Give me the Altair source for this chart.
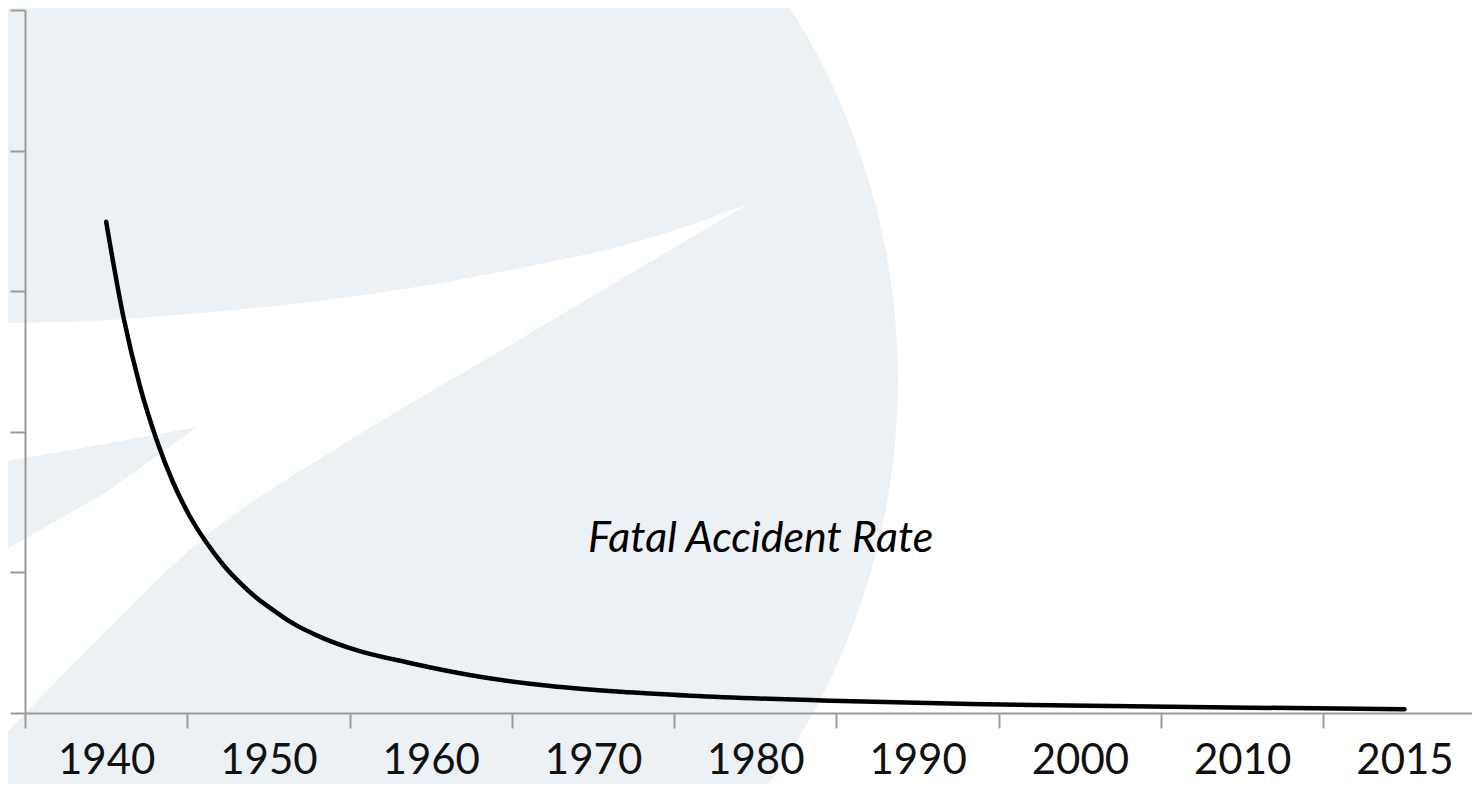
import altair as alt
import pandas as pd

# ---- axis categories (equally spaced slots) ----
year_labels = ["1940", "1950", "1960", "1970", "1980", "1990", "2000", "2010", "2015"]

# ---- fatal accident rate curve (slot position: 0 = 1940 ... 8 = 2015) ----
curve_pos = [0.000, 0.106, 0.209, 0.311, 0.414, 0.517, 0.620, 0.722, 0.825, 0.928,
             1.028, 1.133, 1.336, 1.502, 1.872, 2.303, 2.738, 3.170, 3.602, 4.466,
             5.329, 6.196, 7.060, 8.000]
curve_rate = [3.494, 2.819, 2.321, 1.942, 1.636, 1.396, 1.209, 1.053, 0.925, 0.818,
              0.733, 0.650, 0.533, 0.462, 0.356, 0.258, 0.192, 0.151, 0.123, 0.087,
              0.064, 0.050, 0.038, 0.026]

series_label = "Fatal Accident Rate"
label_pos = [2.969]
label_rate = [1.145]

# ---- background watermark (in the same data units) ----
wm_circle_pos = [0.597]
wm_circle_rate = [2.368]

wm_swoosh_pos = [-0.654, -0.0995, 0.578, 1.503, 2.427, 3.351, 3.955]
wm_swoosh_top = [2.774, 2.788, 2.845, 2.959, 3.137, 3.378, 3.620]
wm_swoosh_bot = [-0.190, 0.469, 1.223, 1.942, 2.575, 3.208, 3.620]

wm_wedge_pos = [-0.654, -0.007, 0.560]
wm_wedge_top = [1.785, 1.913, 2.034]
wm_wedge_bot = [1.138, 1.565, 2.034]

LIGHT = "#ECF1F6"
AXIS = "#9a9a9a"

xscale = alt.Scale(domain=[-0.5, 8.416], nice=False, zero=False)
yscale = alt.Scale(domain=[0, 5], nice=False, zero=True)

label_expr = "[" + ",".join("'%s'" % y for y in year_labels) + "][round(datum.value + 0.5)]"

x_axis = alt.Axis(
    values=[i - 0.5 for i in range(len(year_labels))],
    labelExpr=label_expr,
    labelOffset=81.15,
    labelAlign="center",
    labelBaseline="alphabetic",
    labelPadding=45,
    labelFont="Lato",
    labelFontSize=42,
    labelColor="#111111",
    labelFlush=False,
    labelOverlap=False,
    labelBound=False,
    tickSize=15,
    tickColor=AXIS,
    tickWidth=2,
    domainColor=AXIS,
    domainWidth=2,
    grid=False,
    title=None,
    zindex=1,
)
y_axis = alt.Axis(
    values=[0, 1, 2, 3, 4, 5],
    labels=False,
    tickSize=15,
    tickColor=AXIS,
    tickWidth=2,
    domainColor=AXIS,
    domainWidth=2,
    grid=False,
    title=None,
    zindex=1,
)

circle_df = pd.DataFrame({"pos": wm_circle_pos, "rate": wm_circle_rate})
swoosh_df = pd.DataFrame({"pos": wm_swoosh_pos, "top": wm_swoosh_top, "bot": wm_swoosh_bot})
wedge_df = pd.DataFrame({"pos": wm_wedge_pos, "top": wm_wedge_top, "bot": wm_wedge_bot})
curve_df = pd.DataFrame({"pos": curve_pos, "rate": curve_rate})
label_df = pd.DataFrame({"pos": label_pos, "rate": label_rate, "text": [series_label]})

X = lambda f: alt.X(f, scale=xscale, axis=x_axis)
Y = lambda f: alt.Y(f, scale=yscale, axis=y_axis)

circle = alt.Chart(circle_df).mark_circle(color=LIGHT, opacity=1, size=1932100).encode(
    x=X("pos:Q"), y=Y("rate:Q"),
)

swoosh = alt.Chart(swoosh_df).mark_area(color="white", opacity=1, interpolate="monotone").encode(
    x=X("pos:Q"), y=Y("top:Q"), y2="bot:Q",
)

wedge = alt.Chart(wedge_df).mark_area(color=LIGHT, opacity=1, interpolate="linear").encode(
    x=X("pos:Q"), y=Y("top:Q"), y2="bot:Q",
)

line = alt.Chart(curve_df).mark_line(
    color="black", strokeWidth=4.5, interpolate="monotone", strokeCap="round"
).encode(
    x=X("pos:Q"), y=Y("rate:Q"),
)

text = alt.Chart(label_df).mark_text(
    align="left", baseline="alphabetic", font="Lato", fontStyle="italic",
    fontSize=43, color="#000000"
).encode(
    x=X("pos:Q"), y=Y("rate:Q"), text="text:N",
)

chart = alt.layer(circle, swoosh, wedge, line, text).properties(
    width=1447,
    height=703,
    padding={"left": 17, "top": 2, "right": 0, "bottom": 71},
    autosize=alt.AutoSizeParams(type="none"),
    background="white",
).configure_view(strokeWidth=0)

chart.save("out.html", embed_options={"renderer": "svg", "actions": False})
